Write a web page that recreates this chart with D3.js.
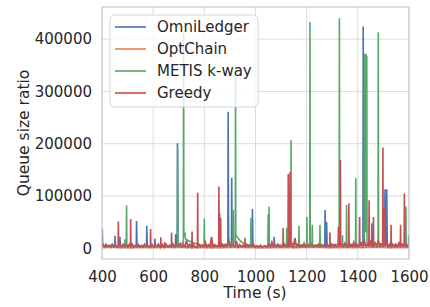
<!DOCTYPE html>
<html><head><meta charset="utf-8">
<script src="https://cdn.jsdelivr.net/npm/d3@7"></script>
<style>body{margin:0;background:#fff}svg{display:block}text{font-family:"DejaVu Sans",sans-serif;fill:#262626}</style>
</head><body>
<svg id="c" width="430" height="307"></svg>
<script>
const seriesNames = ["OmniLedger","OptChain","METIS k-way","Greedy"];
const xTicks = [400,600,800,1000,1200,1400,1600];
const yTicks = [0,100000,200000,300000,400000];

const omni = [[400,4000],[401,38000],[403,3000],[420,2500],[440,3000],[450,2000],[451,24000],[453,3000],[462,2500],[469,3000],[470,22000],[472,2000],[490,3000],[510,2500],[534,3000],[535,52000],[537,3000],[555,2000],[574,3000],[575,43000],[577,3000],[590,2500],[606,3000],[607,18000],[609,3000],[630,2000],[646,3000],[647,10000],[649,3000],[670,2500],[687,3000],[688,27000],[690,4000],[694,5000],[695,201000],[697,6000],[720,4000],[740,3000],[760,3500],[780,3000],[800,4000],[820,3000],[840,3000],[859,4000],[860,67000],[862,4000],[880,3000],[892,5000],[893,261000],[895,6000],[906,5000],[907,135000],[909,5000],[930,4000],[950,3000],[970,3000],[987,4000],[988,75000],[990,4000],[1000,2000],[1020,1500],[1040,2000],[1049,3000],[1050,65000],[1052,3000],[1072,3000],[1073,22000],[1075,3000],[1100,4000],[1120,3000],[1150,3000],[1180,2000],[1200,3000],[1230,3000],[1250,2500],[1271,4000],[1272,73000],[1274,5000],[1277,5000],[1278,50000],[1280,4000],[1300,3000],[1320,3000],[1350,3000],[1380,3000],[1400,3000],[1420,6000],[1421,424000],[1423,6000],[1454,4000],[1455,48000],[1457,4000],[1480,4000],[1505,5000],[1506,113000],[1508,5000],[1512,5000],[1513,113000],[1515,5000],[1540,4000],[1560,3000],[1580,3000],[1598,4000],[1599,25000],[1600,20000]];

const optchain = [[400,1500],[450,2500],[500,1000],[560,2000],[620,1500],[680,2500],[740,1500],[800,2000],[860,1000],[920,2500],[980,1500],[1040,1000],[1100,2000],[1160,1500],[1220,2500],[1280,1500],[1340,2000],[1400,1500],[1460,2500],[1520,1500],[1580,2000],[1600,1500]];

const metis = [[400,5000],[420,4000],[440,6000],[460,4000],[480,5000],[489,5000],[490,17000],[491,5000],[495,6000],[496,82000],[497,6000],[510,5000],[530,4000],[560,5000],[590,4000],[620,5000],[650,4000],[680,5000],[695,5000],[696,190000],[697,8000],[705,8000],[718,10000],[719,412000],[720,25000],[724,30000],[726,18000],[740,14000],[760,10000],[780,7000],[795,5000],[799,5000],[800,57000],[801,6000],[815,5000],[829,5000],[830,20000],[831,5000],[850,5000],[870,6000],[890,8000],[912,8000],[913,73000],[914,10000],[921,10000],[922,350000],[923,25000],[930,20000],[945,12000],[960,8000],[975,6000],[981,6000],[982,58000],[983,6000],[1000,4000],[1030,3000],[1052,5000],[1053,80000],[1054,6000],[1070,5000],[1100,6000],[1121,6000],[1122,39000],[1123,6000],[1138,8000],[1139,207000],[1140,10000],[1150,8000],[1169,6000],[1170,43000],[1171,6000],[1200,6000],[1201,60000],[1202,6000],[1212,8000],[1213,433000],[1214,10000],[1221,6000],[1222,45000],[1223,6000],[1251,5000],[1252,45000],[1253,5000],[1280,5000],[1300,6000],[1327,8000],[1328,440000],[1329,10000],[1339,6000],[1340,25000],[1341,6000],[1355,6000],[1356,83000],[1357,6000],[1375,6000],[1391,6000],[1392,134000],[1393,6000],[1410,6000],[1425,8000],[1426,372000],[1427,30000],[1429,370000],[1430,30000],[1432,372000],[1433,30000],[1435,368000],[1436,10000],[1450,6000],[1470,8000],[1479,8000],[1480,413000],[1481,10000],[1500,6000],[1530,5000],[1560,6000],[1587,6000],[1588,80000],[1589,6000],[1600,5000]];

const greedy = [[400,3000],[405,7000],[410,2500],[416,8000],[422,3000],[428,6000],[434,2000],[440,8000],[446,3000],[452,6000],[458,2500],[463,4000],[464,51000],[465,3000],[470,7000],[476,2000],[482,8000],[488,3000],[494,6000],[500,2500],[506,7000],[511,3000],[512,56000],[513,3000],[518,8000],[524,2000],[530,6000],[536,3000],[542,7000],[548,2500],[554,5000],[560,2000],[566,8000],[572,3000],[578,6000],[584,2500],[589,3000],[590,37000],[591,3000],[596,7000],[602,2000],[608,6000],[614,3000],[620,8000],[626,2500],[629,3000],[630,21000],[631,3000],[636,7000],[640,2000],[644,3000],[645,12000],[646,3000],[652,7000],[658,2500],[664,6000],[671,3000],[672,30000],[673,3000],[678,8000],[684,2000],[690,7000],[700,3000],[706,9000],[712,2500],[718,7000],[724,3000],[730,15000],[736,2500],[742,8000],[751,3000],[752,32000],[753,3000],[758,7000],[764,2000],[773,3000],[774,106000],[775,3000],[780,7000],[786,2500],[792,6000],[798,3000],[804,12000],[810,2000],[816,7000],[822,3000],[828,22000],[834,2500],[840,7000],[846,3000],[856,4000],[857,118000],[858,4000],[863,4000],[864,58000],[865,4000],[870,8000],[876,2500],[882,7000],[888,3000],[896,15000],[902,2500],[912,7000],[918,3000],[926,12000],[932,2000],[938,7000],[944,3000],[950,6000],[958,3000],[959,20000],[960,3000],[966,7000],[972,2500],[978,6000],[984,3000],[992,8000],[998,2000],[1006,5000],[1012,2000],[1020,6000],[1028,2500],[1036,5000],[1044,2000],[1052,7000],[1058,3000],[1064,12000],[1070,2500],[1076,7000],[1082,3000],[1088,8000],[1094,2500],[1107,3000],[1108,39000],[1109,3000],[1114,8000],[1120,3000],[1127,4000],[1128,142000],[1129,4000],[1134,5000],[1135,146000],[1136,5000],[1142,8000],[1148,2500],[1154,20000],[1160,3000],[1166,8000],[1172,2500],[1178,6000],[1184,3000],[1190,10000],[1196,2500],[1206,7000],[1212,3000],[1220,8000],[1226,2500],[1234,6000],[1240,3000],[1246,8000],[1252,2500],[1258,7000],[1264,3000],[1270,8000],[1276,2500],[1282,6000],[1290,3000],[1291,30000],[1292,3000],[1298,8000],[1304,2500],[1310,7000],[1316,3000],[1323,4000],[1324,41000],[1325,4000],[1331,5000],[1332,169000],[1333,5000],[1338,8000],[1344,3000],[1350,10000],[1356,3000],[1364,4000],[1365,86000],[1366,4000],[1372,8000],[1378,3000],[1384,12000],[1390,3000],[1396,8000],[1400,3000],[1406,4000],[1407,60000],[1408,4000],[1414,10000],[1420,3000],[1426,14000],[1432,4000],[1438,8000],[1443,5000],[1444,92000],[1445,5000],[1450,12000],[1455,4000],[1460,5000],[1461,60000],[1462,5000],[1468,10000],[1474,4000],[1480,14000],[1486,4000],[1492,8000],[1497,5000],[1498,193000],[1499,5000],[1504,6000],[1505,78000],[1506,5000],[1512,12000],[1518,3000],[1524,8000],[1529,4000],[1530,45000],[1531,4000],[1536,8000],[1542,3000],[1548,8000],[1554,2500],[1560,10000],[1566,4000],[1567,45000],[1568,4000],[1574,8000],[1581,5000],[1582,105000],[1583,5000],[1588,8000],[1594,3000],[1600,6000]];

const colors = ["#4c72b0","#dd8452","#55a868","#c44e52"];
const allSeries = [omni, optchain, metis, greedy];

const svg = d3.select("#c");
const L = 102, R = 409, T = 7, B = 259;
const x = d3.scaleLinear().domain([400,1600]).range([L,R]);
const y = d3.scaleLinear().domain([-20500,461500]).range([B,T]);

svg.append("rect").attr("width",430).attr("height",307).attr("fill","#fff");

const grid = svg.append("g");
grid.selectAll(".gx").data(xTicks).enter().append("line")
  .attr("x1",d=>x(d)).attr("x2",d=>x(d)).attr("y1",T).attr("y2",B)
  .attr("stroke","#dcdcdc").attr("stroke-width",1);
grid.selectAll(".gy").data(yTicks).enter().append("line")
  .attr("x1",L).attr("x2",R).attr("y1",d=>y(d)).attr("y2",d=>y(d))
  .attr("stroke","#dcdcdc").attr("stroke-width",1);

svg.append("defs").append("clipPath").attr("id","clip").append("rect")
  .attr("x",L).attr("y",T).attr("width",R-L).attr("height",B-T);

const line = d3.line().x(d=>x(d[0])).y(d=>y(d[1]));
const lg = svg.append("g").attr("clip-path","url(#clip)");
allSeries.forEach((s,i)=>{
  lg.append("path").attr("d",line(s)).attr("fill","none")
    .attr("stroke",colors[i]).attr("stroke-width",1.6).attr("stroke-linejoin","miter");
});

svg.append("rect").attr("x",L).attr("y",T).attr("width",R-L).attr("height",B-T)
  .attr("fill","none").attr("stroke","#cccccc").attr("stroke-width",1.2);

const xa = svg.append("g").attr("transform",`translate(0,${B})`)
  .call(d3.axisBottom(x).tickValues(xTicks).tickSize(0).tickPadding(12).tickFormat(d3.format("d")));
xa.select(".domain").remove();
xa.selectAll("text").attr("font-size",15).style("font-family","DejaVu Sans").attr("fill","#262626");
const ya = svg.append("g").attr("transform",`translate(${L},0)`)
  .call(d3.axisLeft(y).tickValues(yTicks).tickSize(0).tickPadding(10).tickFormat(d3.format("d")));
ya.select(".domain").remove();
ya.selectAll("text").attr("font-size",15).style("font-family","DejaVu Sans").attr("fill","#262626");

svg.append("text").attr("x",255).attr("y",298).attr("text-anchor","middle")
  .attr("font-size",15.5).text("Time (s)");
svg.append("text").attr("transform","translate(24,133) rotate(-90)")
  .attr("text-anchor","middle").attr("dy","0.35em").attr("font-size",15.5).text("Queue size ratio");

const leg = svg.append("g");
leg.append("rect").attr("x",110).attr("y",15).attr("width",148).attr("height",92).attr("rx",4)
  .attr("fill","#fff").attr("fill-opacity",0.8).attr("stroke","#d6d6d6").attr("stroke-width",1);
seriesNames.forEach((n,i)=>{
  const cy = 27 + i*22;
  leg.append("line").attr("x1",115).attr("x2",146).attr("y1",cy).attr("y2",cy)
    .attr("stroke",colors[i]).attr("stroke-width",1.6);
  leg.append("text").attr("x",157).attr("y",cy).attr("dy","0.35em").attr("font-size",15).text(n);
});
</script>
</body></html>
